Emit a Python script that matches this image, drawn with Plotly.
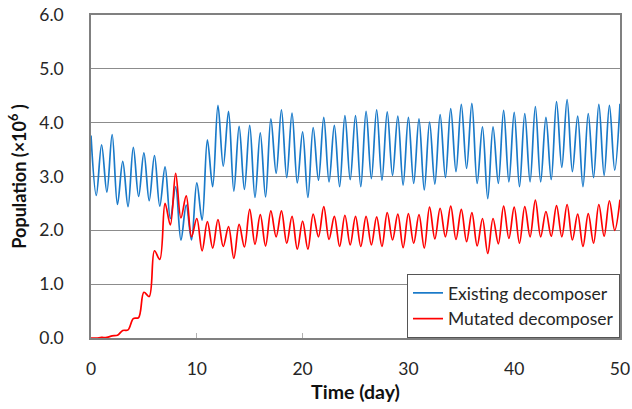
import plotly.graph_objects as go

# Time axis (days), sampled every half day (peaks near whole days, troughs near half days)
days = [i * 0.5 for i in range(101)]

existing = [
    3.76, 2.65, 3.59, 2.71, 3.78, 2.48, 3.28, 2.44, 3.54, 2.63,
    3.44, 2.55, 3.39, 2.45, 3.18, 2.22, 2.81, 1.82, 2.47, 1.82,
    2.88, 2.19, 3.68, 2.81, 4.32, 3.19, 4.21, 2.73, 3.93, 2.76,
    3.95, 2.61, 3.81, 2.62, 4.07, 3.06, 4.24, 2.98, 4.18, 2.88,
    3.83, 2.61, 3.91, 2.93, 4.10, 2.90, 3.95, 2.81, 4.13, 2.94,
    4.13, 2.81, 4.21, 2.96, 4.24, 2.93, 4.20, 3.02, 4.12, 2.84,
    4.10, 2.87, 4.07, 2.75, 4.01, 2.86, 4.15, 2.98, 4.26, 3.09,
    4.34, 3.15, 4.36, 2.87, 3.92, 2.59, 3.92, 2.87, 4.23, 2.90,
    4.19, 2.81, 4.17, 2.90, 4.30, 2.90, 4.10, 2.94, 4.39, 3.17,
    4.43, 3.09, 4.12, 2.81, 4.17, 2.98, 4.34, 3.02, 4.32, 3.12,
    4.35,
]

mutated = [
    0.00, 0.00, 0.01, 0.01, 0.04, 0.05, 0.14, 0.15, 0.36, 0.38,
    0.85, 0.77, 1.62, 1.46, 2.50, 2.10, 3.06, 2.23, 2.64, 1.88,
    2.22, 1.62, 2.16, 1.67, 2.20, 1.70, 2.07, 1.48, 2.11, 1.69,
    2.39, 1.74, 2.29, 1.71, 2.36, 1.88, 2.36, 1.76, 2.26, 1.65,
    2.17, 1.65, 2.30, 1.88, 2.44, 1.83, 2.26, 1.70, 2.28, 1.73,
    2.26, 1.70, 2.26, 1.73, 2.25, 1.70, 2.33, 1.82, 2.30, 1.68,
    2.31, 1.76, 2.29, 1.67, 2.43, 1.84, 2.41, 1.88, 2.45, 1.83,
    2.39, 1.79, 2.33, 1.71, 2.22, 1.57, 2.22, 1.75, 2.45, 1.85,
    2.43, 1.76, 2.44, 1.88, 2.56, 1.88, 2.35, 1.89, 2.46, 1.88,
    2.48, 1.82, 2.30, 1.70, 2.31, 1.76, 2.48, 1.89, 2.55, 2.00,
    2.57,
]

x_ticks = [0, 10, 20, 30, 40, 50]
y_ticks = [0, 1, 2, 3, 4, 5, 6]
y_tick_labels = ["0.0", "1.0", "2.0", "3.0", "4.0", "5.0", "6.0"]

FONT = "Lato, 'Open Sans', sans-serif"

fig = go.Figure()
fig.add_trace(go.Scatter(
    x=days, y=existing, mode="lines", name="Existing decomposer",
    line=dict(color="#1a7ac9", width=1.7, shape="spline", smoothing=1.0),
))
fig.add_trace(go.Scatter(
    x=days, y=mutated, mode="lines", name="Mutated decomposer",
    line=dict(color="#ff0000", width=1.7, shape="spline", smoothing=1.0),
))

fig.update_layout(
    width=632, height=409,
    margin=dict(l=91, r=12, t=15, b=71),
    paper_bgcolor="white", plot_bgcolor="white",
    font=dict(family=FONT, size=17.5, color="#262626"),
    showlegend=True,
    legend=dict(
        x=1, y=0, xanchor="right", yanchor="bottom",
        bgcolor="white", bordercolor="#555555", borderwidth=1,
        font=dict(family=FONT, size=17.5, color="#262626"),
        tracegroupgap=0, itemwidth=30,
    ),
    xaxis=dict(
        range=[0, 50], tickvals=x_ticks, ticktext=[str(v) for v in x_ticks],
        automargin=False,
        showgrid=False, zeroline=False,
        showline=True, linecolor="#808080", linewidth=1.5, mirror=True,
        ticks="inside", ticklen=5, tickcolor="#b0b0b0",
        ticklabelstandoff=14, ticklabeloverflow="allow",
        title=dict(text="<b>Time (day)</b>", font=dict(family=FONT, size=19.5, color="#111111"), standoff=8),
    ),
    yaxis=dict(
        range=[0, 6], tickvals=y_ticks, ticktext=y_tick_labels,
        automargin=False,
        showgrid=True, gridcolor="#8c8c8c", gridwidth=1,
        zeroline=False,
        showline=True, linecolor="#808080", linewidth=1.5, mirror=True,
        ticks="", ticklabelstandoff=22, ticklabeloverflow="allow",
        title=dict(text="<b>Population (×10<sup>6</sup> )</b>", font=dict(family=FONT, size=18, color="#111111"), standoff=8),
    ),
)

# remove the default 8px page margin so the 632x409 figure fills the window exactly
fig.write_html(
    "out.html",
    config={"displayModeBar": False},
    post_script="document.body.style.margin='0';document.body.style.overflow='hidden';",
)
